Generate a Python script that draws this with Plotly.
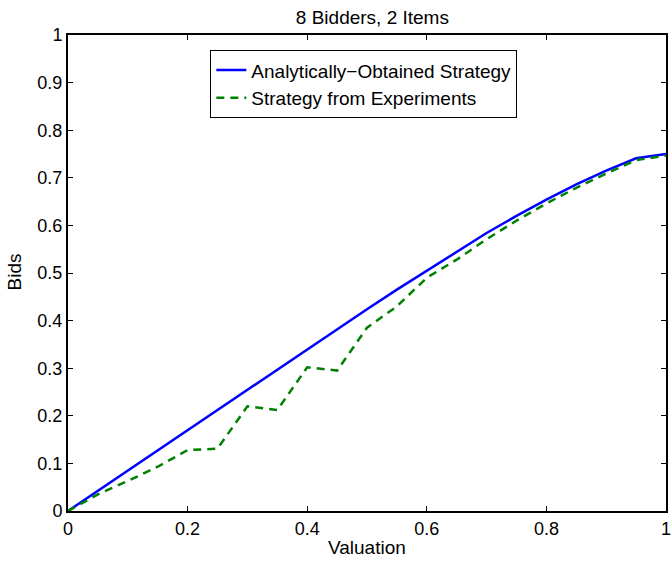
import plotly.graph_objects as go

valuation = [0.0, 0.05, 0.1, 0.15, 0.2, 0.25, 0.3, 0.35, 0.4, 0.45, 0.5,
             0.55, 0.6, 0.65, 0.7, 0.75, 0.8, 0.85, 0.9, 0.95, 1.0]
analytic_bids = [0.0, 0.0425, 0.085, 0.1275, 0.17, 0.2125, 0.255, 0.2975, 0.34, 0.382, 0.424,
                 0.465, 0.505, 0.544, 0.584, 0.62, 0.654, 0.686, 0.715, 0.741, 0.75]
experiment_bids = [0.0, 0.035, 0.063, 0.093, 0.128, 0.131, 0.22, 0.212, 0.302, 0.295, 0.385,
                   0.43, 0.49, 0.528, 0.571, 0.61, 0.646, 0.679, 0.709, 0.737, 0.747]

x_ticks = [0, 0.2, 0.4, 0.6, 0.8, 1.0]
x_tick_labels = ["0", "0.2", "0.4", "0.6", "0.8", "1"]
y_ticks = [0, 0.1, 0.2, 0.3, 0.4, 0.5, 0.6, 0.7, 0.8, 0.9, 1.0]
y_tick_labels = ["0", "0.1", "0.2", "0.3", "0.4", "0.5", "0.6", "0.7", "0.8", "0.9", "1"]

FONT = "Liberation Sans, Arial, Helvetica, sans-serif"

fig = go.Figure()
fig.add_trace(go.Scatter(
    x=valuation, y=analytic_bids, mode="lines",
    name="Analytically\u2212Obtained Strategy",
    line=dict(color="#0000ff", width=2.5),
))
fig.add_trace(go.Scatter(
    x=valuation, y=experiment_bids, mode="lines",
    name="Strategy from Experiments",
    line=dict(color="#008000", width=2.5, dash="8px,6px"),
))

axis_common = dict(
    showline=True, linecolor="black", linewidth=2, mirror="ticks",
    ticks="inside", ticklen=5, tickwidth=1, tickcolor="black",
    showgrid=False, zeroline=False, ticklabeloverflow="allow",
    tickfont=dict(family=FONT, size=18, color="black"),
)

fig.update_layout(
    width=671, height=564,
    margin=dict(l=68, r=0, t=35, b=53),
    paper_bgcolor="white", plot_bgcolor="white",
    showlegend=True,
    title=dict(text="8 Bidders, 2 Items", x=0.555, xanchor="center",
               y=1 - 17 / 564, yanchor="middle",
               font=dict(family=FONT, size=19, color="black")),
    xaxis=dict(range=[0, 1], tickvals=x_ticks, ticktext=x_tick_labels, **axis_common),
    yaxis=dict(range=[0, 1], tickvals=y_ticks, ticktext=y_tick_labels, **axis_common),
    legend=dict(x=0.238, y=0.968, xanchor="left", yanchor="top",
                bgcolor="white", bordercolor="black", borderwidth=1,
                font=dict(family=FONT, size=19, color="black"),
                tracegroupgap=0, itemwidth=30),
    annotations=[
        dict(text="Valuation", xref="paper", yref="paper", x=0.5, y=-0.0777,
             xanchor="center", yanchor="middle", showarrow=False,
             font=dict(family=FONT, size=19, color="black")),
        dict(text="Bids", xref="paper", yref="paper", x=-0.0896, y=0.502,
             xanchor="center", yanchor="middle", showarrow=False, textangle=-90,
             font=dict(family=FONT, size=19, color="black")),
    ],
)

fig.write_html("out.html")
